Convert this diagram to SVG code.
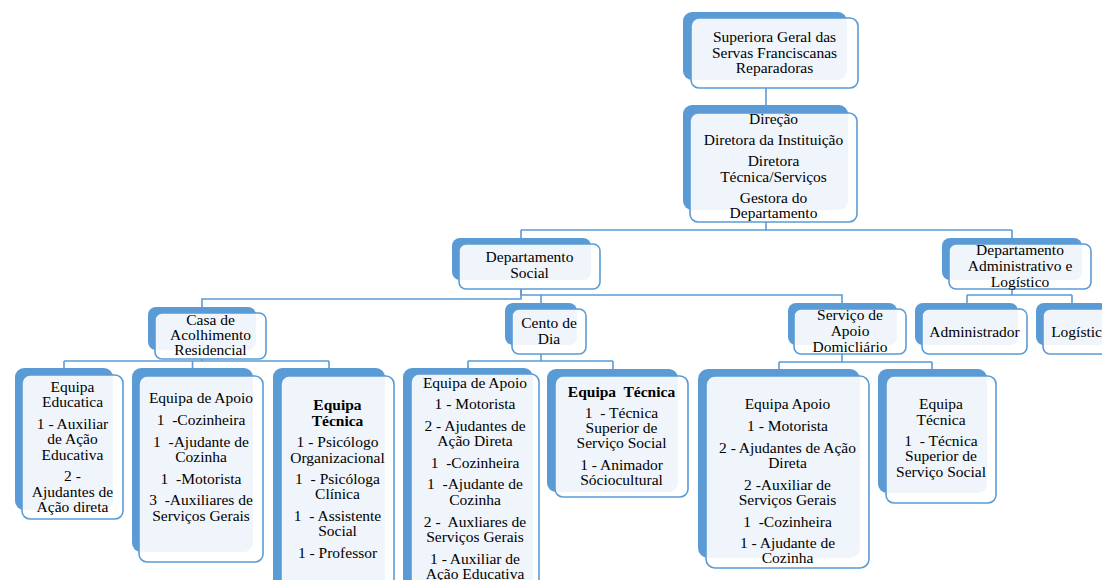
<svg xmlns="http://www.w3.org/2000/svg" width="1102" height="580" viewBox="0 0 1102 580">
<style>
.back{fill:#5B9BD5;}
.front{fill:#ffffff;fill-opacity:0.9;stroke:#5B9BD5;stroke-width:1.6;}
.t{font-family:'Liberation Serif','Times New Roman',serif;font-size:15.5px;fill:#000;text-anchor:middle;}
.b{font-weight:bold;}
.conn{fill:none;stroke:#5B9BD5;stroke-width:1.6;}
</style>
<rect width="1102" height="580" fill="#ffffff"/>
<g id="connectors" class="conn">
<path d="M766,88 V105"/>
<path d="M766,222 V230 M521,230 H1012 M521,230 V238 M1012,230 V238"/>
<path d="M521,289 V299 H202 V307"/>
<path d="M521,289 V295 H842 V303 M541,295 V303"/>
<path d="M1012,289 V295 M967,295 H1072 M967,295 V303 M1072,295 V303"/>
<path d="M202,359 V361 M64,361 H329 M64,361 V368 M192.5,361 V368 M329,361 V368"/>
<path d="M541,354 V361 M468,361 H613 M468,361 V368 M613,361 V369"/>
<path d="M842,354 V362 M779,362 H932 M779,362 V369 M932,362 V369"/>
</g>
<g id="n-superiora">
<rect class="back" x="683" y="12" width="164" height="68" rx="9"/>
<rect class="front" x="691" y="18" width="167" height="70" rx="8"/>
<text class="t"><tspan x="774.5" y="42">Superiora Geral das</tspan><tspan x="774.5" y="58">Servas Franciscanas</tspan><tspan x="774.5" y="73">Reparadoras</tspan></text>
</g>
<g id="n-direcao">
<rect class="back" x="683" y="105" width="165" height="105" rx="9"/>
<rect class="front" x="690" y="113" width="167" height="109" rx="8"/>
<text class="t"><tspan x="773.5" y="124">Direção</tspan><tspan x="773.5" y="145">Diretora da Instituição</tspan><tspan x="773.5" y="166">Diretora</tspan><tspan x="773.5" y="182">Técnica/Serviços</tspan><tspan x="773.5" y="203">Gestora do</tspan><tspan x="773.5" y="218">Departamento</tspan></text>
</g>
<g id="n-dept-social">
<rect class="back" x="452" y="238" width="139" height="42" rx="8"/>
<rect class="front" x="459" y="244" width="141" height="45" rx="7"/>
<text class="t"><tspan x="529.5" y="262">Departamento</tspan><tspan x="529.5" y="278">Social</tspan></text>
</g>
<g id="n-dept-admin">
<rect class="back" x="942" y="238" width="140" height="42" rx="8"/>
<rect class="front" x="949" y="244" width="142" height="45" rx="7"/>
<text class="t"><tspan x="1020" y="255">Departamento</tspan><tspan x="1020" y="271">Administrativo e</tspan><tspan x="1020" y="287">Logístico</tspan></text>
</g>
<g id="n-casa">
<rect class="back" x="148" y="307" width="108" height="43" rx="8"/>
<rect class="front" x="155" y="313" width="111" height="46" rx="7"/>
<text class="t"><tspan x="210.5" y="325">Casa de</tspan><tspan x="210.5" y="340">Acolhimento</tspan><tspan x="210.5" y="355">Residencial</tspan></text>
</g>
<g id="n-cento">
<rect class="back" x="505" y="303" width="72" height="42" rx="8"/>
<rect class="front" x="512" y="309" width="74" height="45" rx="7"/>
<text class="t"><tspan x="549" y="328">Cento de</tspan><tspan x="549" y="344">Dia</tspan></text>
</g>
<g id="n-servico">
<rect class="back" x="788" y="303" width="109" height="42" rx="8"/>
<rect class="front" x="794" y="309" width="112" height="45" rx="7"/>
<text class="t"><tspan x="850" y="320">Serviço de</tspan><tspan x="850" y="336">Apoio</tspan><tspan x="850" y="352">Domicliário</tspan></text>
</g>
<g id="n-administrador">
<rect class="back" x="915" y="303" width="103" height="42" rx="8"/>
<rect class="front" x="922" y="309" width="105" height="45" rx="7"/>
<text class="t"><tspan x="974.5" y="337">Administrador</tspan></text>
</g>
<g id="n-logistica">
<rect class="back" x="1036" y="303" width="72" height="42" rx="8"/>
<rect class="front" x="1043" y="309" width="74" height="45" rx="7"/>
<text class="t"><tspan x="1080" y="337">Logística</tspan></text>
</g>
<g id="n-educatica">
<rect class="back" x="15" y="368" width="98" height="142" rx="9"/>
<rect class="front" x="22" y="375" width="101" height="144" rx="8"/>
<text class="t"><tspan x="72.5" y="392">Equipa</tspan><tspan x="72.5" y="407">Educatica</tspan><tspan x="72.5" y="429">1 - Auxiliar</tspan><tspan x="72.5" y="444">de Ação</tspan><tspan x="72.5" y="460">Educativa</tspan><tspan x="72.5" y="481">2 -</tspan><tspan x="72.5" y="497">Ajudantes de</tspan><tspan x="72.5" y="512">Ação direta</tspan></text>
</g>
<g id="n-casa-apoio">
<rect class="back" x="132" y="368" width="121" height="184" rx="9"/>
<rect class="front" x="139" y="376" width="124" height="186" rx="8"/>
<text class="t"><tspan x="201" y="403">Equipa de Apoio</tspan><tspan x="201" y="425">1&#160; -Cozinheira</tspan><tspan x="201" y="447">1&#160; -Ajudante de</tspan><tspan x="201" y="462">Cozinha</tspan><tspan x="201" y="484">1&#160; -Motorista</tspan><tspan x="201" y="505">3&#160; -Auxiliares de</tspan><tspan x="201" y="521">Serviços Gerais</tspan></text>
</g>
<g id="n-casa-tecnica">
<rect class="back" x="273" y="368" width="112" height="230" rx="9"/>
<rect class="front" x="281" y="376" width="113" height="230" rx="8"/>
<text class="t"><tspan class="b" x="337.5" y="410">Equipa</tspan><tspan class="b" x="337.5" y="426">Técnica</tspan><tspan x="337.5" y="447">1 - Psicólogo</tspan><tspan x="337.5" y="463">Organizacional</tspan><tspan x="337.5" y="484">1&#160; - Psicóloga</tspan><tspan x="337.5" y="499">Clínica</tspan><tspan x="337.5" y="521">1&#160; - Assistente</tspan><tspan x="337.5" y="536">Social</tspan><tspan x="337.5" y="558">1 - Professor</tspan></text>
</g>
<g id="n-cento-apoio">
<rect class="back" x="403" y="368" width="130" height="230" rx="9"/>
<rect class="front" x="411" y="374" width="128" height="230" rx="8"/>
<text class="t"><tspan x="475" y="388">Equipa de Apoio</tspan><tspan x="475" y="409">1 - Motorista</tspan><tspan x="475" y="431">2 - Ajudantes de</tspan><tspan x="475" y="446">Ação Direta</tspan><tspan x="475" y="468">1&#160; -Cozinheira</tspan><tspan x="475" y="489">1&#160; -Ajudante de</tspan><tspan x="475" y="505">Cozinha</tspan><tspan x="475" y="527">2 -&#160; Auxliares de</tspan><tspan x="475" y="542">Serviços Gerais</tspan><tspan x="475" y="564">1 - Auxiliar de</tspan><tspan x="475" y="579">Ação Educativa</tspan></text>
</g>
<g id="n-cento-tecnica">
<rect class="back" x="547" y="369" width="131" height="123" rx="9"/>
<rect class="front" x="555" y="376" width="133" height="121" rx="8"/>
<text class="t"><tspan class="b" x="621.5" y="397">Equipa&#160; Técnica</tspan><tspan x="621.5" y="418">1&#160; - Técnica</tspan><tspan x="621.5" y="433">Superior de</tspan><tspan x="621.5" y="448">Serviço Social</tspan><tspan x="621.5" y="470">1 - Animador</tspan><tspan x="621.5" y="485">Sóciocultural</tspan></text>
</g>
<g id="n-servico-apoio">
<rect class="back" x="698" y="369" width="162" height="189" rx="10"/>
<rect class="front" x="706" y="376" width="163" height="192" rx="9"/>
<text class="t"><tspan x="787.5" y="409">Equipa Apoio</tspan><tspan x="787.5" y="431">1 - Motorista</tspan><tspan x="787.5" y="453">2 - Ajudantes de Ação</tspan><tspan x="787.5" y="468">Direta</tspan><tspan x="787.5" y="490">2 -Auxiliar de</tspan><tspan x="787.5" y="505">Serviços Gerais</tspan><tspan x="787.5" y="527">1&#160; -Cozinheira</tspan><tspan x="787.5" y="548">1 - Ajudante de</tspan><tspan x="787.5" y="563">Cozinha</tspan></text>
</g>
<g id="n-servico-tecnica">
<rect class="back" x="878" y="369" width="109" height="124" rx="9"/>
<rect class="front" x="886" y="376" width="110" height="127" rx="8"/>
<text class="t"><tspan x="941" y="409">Equipa</tspan><tspan x="941" y="425">Técnica</tspan><tspan x="941" y="446">1&#160; - Técnica</tspan><tspan x="941" y="461">Superior de</tspan><tspan x="941" y="477">Serviço Social</tspan></text>
</g>
</svg>
